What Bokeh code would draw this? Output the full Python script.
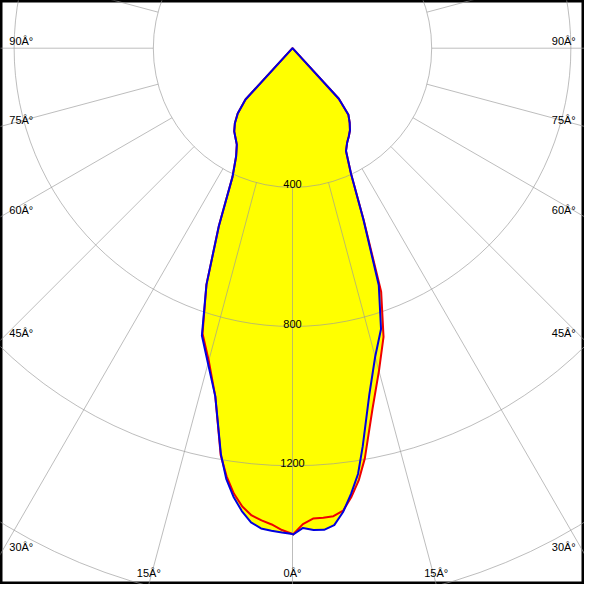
import numpy as np
from bokeh.plotting import figure
from bokeh.models import Range1d
from bokeh.embed import file_html
from bokeh.resources import INLINE
from bokeh.core.properties import value

# ---- data (candela vs. gamma angle) ----
gamma = [0, 1.25, 2.5, 3.75, 5, 6.25, 7.5, 8.75, 10, 12.5, 15, 17.5, 20, 22.5,
         25, 27.5, 30, 32.5, 35, 37.5, 40, 42.5, 45, 60, 90, 120, 150, 180]
blue_c0 = [1399, 1379, 1386, 1387, 1376, 1340, 1291, 1238, 1162, 1020, 918, 846,
           725, 532, 398, 333, 314, 301, 288, 270, 250, 197, 0, 0, 0, 0, 0, 0]
blue_c180 = [1396, 1392, 1388, 1383, 1368, 1338, 1300, 1252, 1185, 1025, 938, 866,
             723, 553, 408, 351, 320, 305, 292, 272, 245, 200, 0, 0, 0, 0, 0, 0]
red_c0 = [1399, 1368, 1353, 1352, 1350, 1337, 1300, 1255, 1197, 1062, 960, 870,
          745, 535, 398, 333, 314, 301, 288, 270, 250, 197, 0, 0, 0, 0, 0, 0]
red_c180 = [1396, 1385, 1370, 1360, 1348, 1325, 1291, 1245, 1188, 1025, 930, 860,
            723, 553, 408, 351, 320, 305, 292, 272, 245, 200, 0, 0, 0, 0, 0, 0]

rings = [400, 800, 1200, 1600]
ring_labels = ["400", "800", "1200"]
spoke_angles = list(range(0, 360, 15))
tick_angles = [-90, -75, -60, -45, -30, -15, 0, 15, 30, 45, 60, 75, 90]
tick_labels = ["90Â°", "75Â°", "60Â°", "45Â°", "30Â°", "15Â°", "0Â°",
               "15Â°", "30Â°", "45Â°", "60Â°", "75Â°", "90Â°"]

# ---- geometry helpers ----
S = 400.0 / 143.0          # candela per reference pixel
CX, CY, W, H = 300.0, 49.0, 600.0, 600.0


def px(x, y):
    return (x - CX) * S, (CY - y) * S


def outline(c0, c180):
    g = np.radians(gamma)
    c0 = np.asarray(c0, float)
    c180 = np.asarray(c180, float)
    xr, yr = c0 * np.sin(g), -c0 * np.cos(g)
    xl, yl = -c180 * np.sin(g), -c180 * np.cos(g)
    return np.concatenate([xr, xl[::-1]]), np.concatenate([yr, yl[::-1]])


p = figure(width=584, height=584, output_backend="svg", toolbar_location=None,
           x_axis_type=None, y_axis_type=None, min_border=0,
           x_range=Range1d(-CX * S, (W - CX) * S),
           y_range=Range1d((CY - H) * S, CY * S))
p.background_fill_color = "white"
p.border_fill_color = "white"
p.outline_line_color = "black"
p.outline_line_width = 4

bx, by = outline(blue_c0, blue_c180)
rx, ry = outline(red_c0, red_c180)

# yellow fill (union of both planes)
p.patch(rx, ry, fill_color="#ffff00", line_color=None)
p.patch(bx, by, fill_color="#ffff00", line_color=None)

# grid
grid_col = "#9a9a9a"
p.circle(x=[0] * len(rings), y=[0] * len(rings), radius=rings,
         fill_color=None, line_color=grid_col, line_alpha=0.65, line_width=1)
a = np.radians(spoke_angles)
r0, r1 = rings[0], 4000
p.segment(x0=r0 * np.sin(a), y0=-r0 * np.cos(a), x1=r1 * np.sin(a), y1=-r1 * np.cos(a),
          line_color=grid_col, line_alpha=0.65, line_width=1)

# curves
p.line(rx, ry, line_color="#f00000", line_width=2, line_join="round")
p.line(bx, by, line_color="#0000e0", line_width=2, line_join="round")

# ring labels
ry_lab = [-(r / S - 3) * S for r in rings[:len(ring_labels)]]
p.text(x=[0] * len(ring_labels), y=ry_lab, text=ring_labels,
       text_align="center", text_baseline="alphabetic",
       text_font=value("Liberation Sans"), text_font_size="11px", text_color="black")

# angle labels at frame edges
for ang, lab in zip(tick_angles, tick_labels):
    t = np.radians(ang)
    if abs(ang) < 90 and 0 <= CX + (H - CY) * np.tan(t) <= W:
        ex = CX + (H - CY) * np.tan(t)
        if 8 < ex < W - 8:
            x, y = px(ex, H - 12)
            align = "center"
        else:
            continue
    else:
        if abs(ang) == 90:
            ey = CY
        else:
            ey = CY + CX / abs(np.tan(t))
        if ang < 0:
            x, y = px(9, ey - 7)
            align = "left"
        else:
            x, y = px(W - 9, ey - 7)
            align = "right"
    p.text(x=[x], y=[y], text=[lab], text_align=align, text_baseline="middle",
           text_font=value("Liberation Sans"), text_font_size="11px", text_color="black")

open("out.html", "w").write(file_html(p, INLINE))
